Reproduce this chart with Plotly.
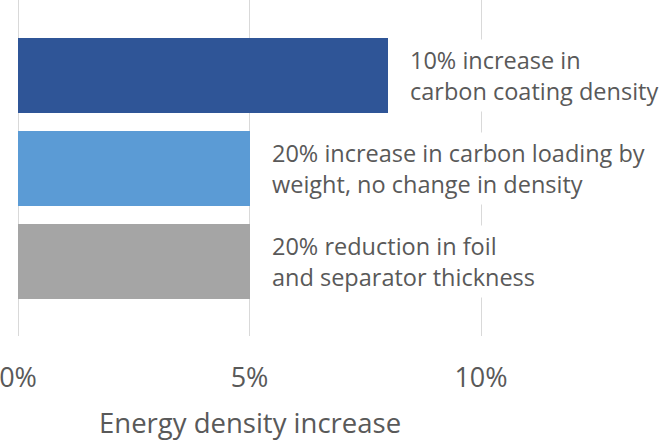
import plotly.graph_objects as go

labels = [
    "10% increase in<br>carbon coating density",
    "20% increase in carbon loading by<br>weight, no change in density",
    "20% reduction in foil<br>and separator thickness",
]
values = [0.08, 0.05, 0.05]
colors = ["#2F5597", "#5B9BD5", "#A5A5A5"]
positions = [0, 1, 2]
tick_vals = [0, 0.05, 0.10]
tick_text = ["0%", "5%", "10%"]
axis_title = "Energy density increase"

FONT = "Open Sans"
GREY = "#595959"

fig = go.Figure()
fig.add_trace(go.Bar(
    x=values, y=positions, orientation="h",
    marker=dict(color=colors, line=dict(width=0)),
    width=0.806, hoverinfo="skip",
))

for v, p, t in zip(values, positions, labels):
    fig.add_annotation(
        x=v, y=p, xref="x", yref="y", text=t, showarrow=False,
        xanchor="left", yanchor="middle", align="left", xshift=17,
        bgcolor="white", borderpad=4,
        font=dict(family=FONT, size=23.5, color=GREY),
    )

fig.add_annotation(
    x=0.05, y=-0.258, xref="x", yref="paper", text=axis_title, showarrow=False,
    xanchor="center", yanchor="middle",
    font=dict(family=FONT, size=27.5, color=GREY),
)

fig.update_layout(
    width=663, height=441,
    margin=dict(l=18, r=0, t=0, b=105),
    paper_bgcolor="white", plot_bgcolor="white",
    showlegend=False, bargap=0,
    font=dict(family=FONT, size=24, color=GREY),
)
fig.update_xaxes(
    range=[0, 0.1393], tickvals=tick_vals, ticktext=tick_text,
    showgrid=True, gridcolor="#D9D9D9", gridwidth=1,
    zeroline=True, zerolinecolor="#D9D9D9", zerolinewidth=1,
    showline=False, ticks="", ticklabelstandoff=23,
    ticklabeloverflow="allow",
    tickfont=dict(family=FONT, size=27, color=GREY),
)
fig.update_yaxes(
    range=[2.80, -0.812], showticklabels=False, showgrid=False,
    zeroline=False, showline=False, ticks="",
)

fig.write_html(
    "out.html",
    config={"displayModeBar": False},
    post_script="document.body.style.margin='0';",
)
